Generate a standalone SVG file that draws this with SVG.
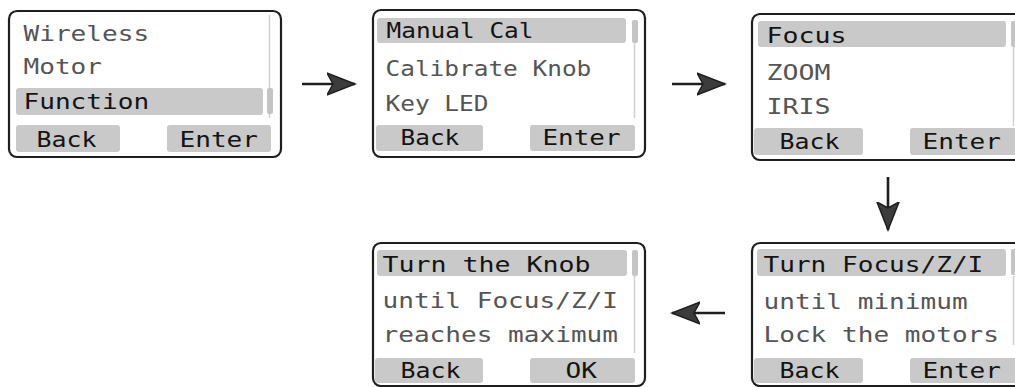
<svg xmlns="http://www.w3.org/2000/svg" width="1015" height="387" viewBox="0 0 1015 387">
<style>
.box{fill:#fff;stroke:#1e1e1e;stroke-width:2.2}
.hl{fill:#c9c9c9}
.btn{fill:#c9c9c9}
.trk{stroke:#cfcfcf;stroke-width:1.5;fill:none}
.thumb{fill:#c4c4c4}
text{font-family:"DejaVu Sans Mono","Liberation Mono",monospace;font-size:21px}
.k{fill:#141414}
.g{fill:#555}
.arr{stroke:#1e1e1e;stroke-width:2.6;fill:none}
</style>
<defs>
<marker id="ah" markerUnits="userSpaceOnUse" markerWidth="30" markerHeight="26" refX="28" refY="12" orient="auto">
<path d="M28,12 L0,1 L6,12 L0,23 Z" fill="#3c3c3c" stroke="#1e1e1e" stroke-width="1.5" stroke-linejoin="miter"/>
</marker>
</defs>
<rect width="1015" height="387" fill="#fff"/>

<g id="screen1">
<rect class="box" x="9" y="11" width="272" height="146" rx="8"/>
<line class="trk" x1="269.5" y1="15" x2="269.5" y2="118"/>
<rect class="thumb" x="267" y="88" width="6" height="26" rx="2"/>
<rect class="hl" x="16" y="88" width="247" height="27" rx="3"/>
<rect class="btn" x="16" y="125" width="104" height="27" rx="3"/>
<rect class="btn" x="167" y="125" width="104" height="27" rx="3"/>
<text class="g" x="23.5" y="41" textLength="125.6" lengthAdjust="spacingAndGlyphs">Wireless</text>
<text class="g" x="23.5" y="74" textLength="78.5" lengthAdjust="spacingAndGlyphs">Motor</text>
<text class="k" x="23.5" y="109" textLength="125.6" lengthAdjust="spacingAndGlyphs">Function</text>
<text class="k" x="36.5" y="147" textLength="60" lengthAdjust="spacingAndGlyphs">Back</text>
<text class="k" x="179.5" y="147" textLength="78.5" lengthAdjust="spacingAndGlyphs">Enter</text>
</g>

<g id="screen2">
<rect class="box" x="373" y="10" width="272" height="147" rx="8"/>
<line class="trk" x1="634.5" y1="43" x2="634.5" y2="118"/>
<rect class="thumb" x="632" y="20" width="6" height="23" rx="2"/>
<rect class="hl" x="377" y="18" width="249" height="25" rx="3"/>
<rect class="btn" x="376" y="125" width="107" height="26" rx="3"/>
<rect class="btn" x="530" y="125" width="105" height="26" rx="3"/>
<text class="k" x="386.5" y="38" textLength="147" lengthAdjust="spacingAndGlyphs">Manual Cal</text>
<text class="g" x="385.5" y="76" textLength="205.8" lengthAdjust="spacingAndGlyphs">Calibrate Knob</text>
<text class="g" x="385.5" y="111" textLength="102.9" lengthAdjust="spacingAndGlyphs">Key LED</text>
<text class="k" x="400.5" y="145" textLength="58.8" lengthAdjust="spacingAndGlyphs">Back</text>
<text class="k" x="542.5" y="145" textLength="78" lengthAdjust="spacingAndGlyphs">Enter</text>
</g>

<g id="screen3">
<rect class="box" x="752" y="14" width="272" height="146" rx="8"/>
<line class="trk" x1="1013.5" y1="47" x2="1013.5" y2="126"/>
<rect class="thumb" x="1011" y="21" width="6" height="26" rx="2"/>
<rect class="hl" x="758" y="21" width="248" height="26" rx="3"/>
<rect class="btn" x="754" y="128" width="109" height="27" rx="3"/>
<rect class="btn" x="910" y="128" width="108" height="27" rx="3"/>
<text class="k" x="766.5" y="43" textLength="80" lengthAdjust="spacingAndGlyphs">Focus</text>
<text class="g" x="766.5" y="80" textLength="64" lengthAdjust="spacingAndGlyphs">ZOOM</text>
<text class="g" x="766.5" y="114" textLength="64" lengthAdjust="spacingAndGlyphs">IRIS</text>
<text class="k" x="779.5" y="149" textLength="60" lengthAdjust="spacingAndGlyphs">Back</text>
<text class="k" x="922.5" y="149" textLength="78.5" lengthAdjust="spacingAndGlyphs">Enter</text>
</g>

<g id="screen4">
<rect class="box" x="373" y="243" width="272" height="143" rx="8"/>
<line class="trk" x1="634.5" y1="276" x2="634.5" y2="353"/>
<rect class="thumb" x="632" y="250" width="6" height="26" rx="2"/>
<rect class="hl" x="377" y="250" width="250" height="26" rx="3"/>
<rect class="btn" x="375" y="358" width="108" height="25" rx="3"/>
<rect class="btn" x="530" y="358" width="105" height="25" rx="3"/>
<text class="k" x="382.5" y="272" textLength="208" lengthAdjust="spacingAndGlyphs">Turn the Knob</text>
<text class="g" x="382.5" y="308" textLength="235.5" lengthAdjust="spacingAndGlyphs">until Focus/Z/I</text>
<text class="g" x="382.5" y="342" textLength="235.5" lengthAdjust="spacingAndGlyphs">reaches maximum</text>
<text class="k" x="400.5" y="378" textLength="60" lengthAdjust="spacingAndGlyphs">Back</text>
<text class="k" x="565.5" y="378" textLength="31.4" lengthAdjust="spacingAndGlyphs">OK</text>
</g>

<g id="screen5">
<rect class="box" x="752" y="243" width="272" height="143" rx="8"/>
<line class="trk" x1="1013.5" y1="276" x2="1013.5" y2="345"/>
<rect class="thumb" x="1011" y="249" width="6" height="26" rx="2"/>
<rect class="hl" x="757" y="249" width="249" height="27" rx="3"/>
<rect class="btn" x="754" y="358" width="109" height="25" rx="3"/>
<rect class="btn" x="910" y="358" width="108" height="25" rx="3"/>
<text class="k" x="763.5" y="272" textLength="219.8" lengthAdjust="spacingAndGlyphs">Turn Focus/Z/I</text>
<text class="g" x="763.5" y="309" textLength="204.1" lengthAdjust="spacingAndGlyphs">until minimum</text>
<text class="g" x="763.5" y="342" textLength="235.5" lengthAdjust="spacingAndGlyphs">Lock the motors</text>
<text class="k" x="779.5" y="378" textLength="60" lengthAdjust="spacingAndGlyphs">Back</text>
<text class="k" x="922.5" y="378" textLength="78.5" lengthAdjust="spacingAndGlyphs">Enter</text>
</g>

<g id="connectors">
<line class="arr" x1="302" y1="84" x2="355" y2="84" marker-end="url(#ah)"/>
<line class="arr" x1="672" y1="84" x2="725" y2="84" marker-end="url(#ah)"/>
<line class="arr" x1="888" y1="177" x2="888" y2="230" marker-end="url(#ah)"/>
<line class="arr" x1="725" y1="313" x2="672" y2="313" marker-end="url(#ah)"/>
</g>
</svg>
